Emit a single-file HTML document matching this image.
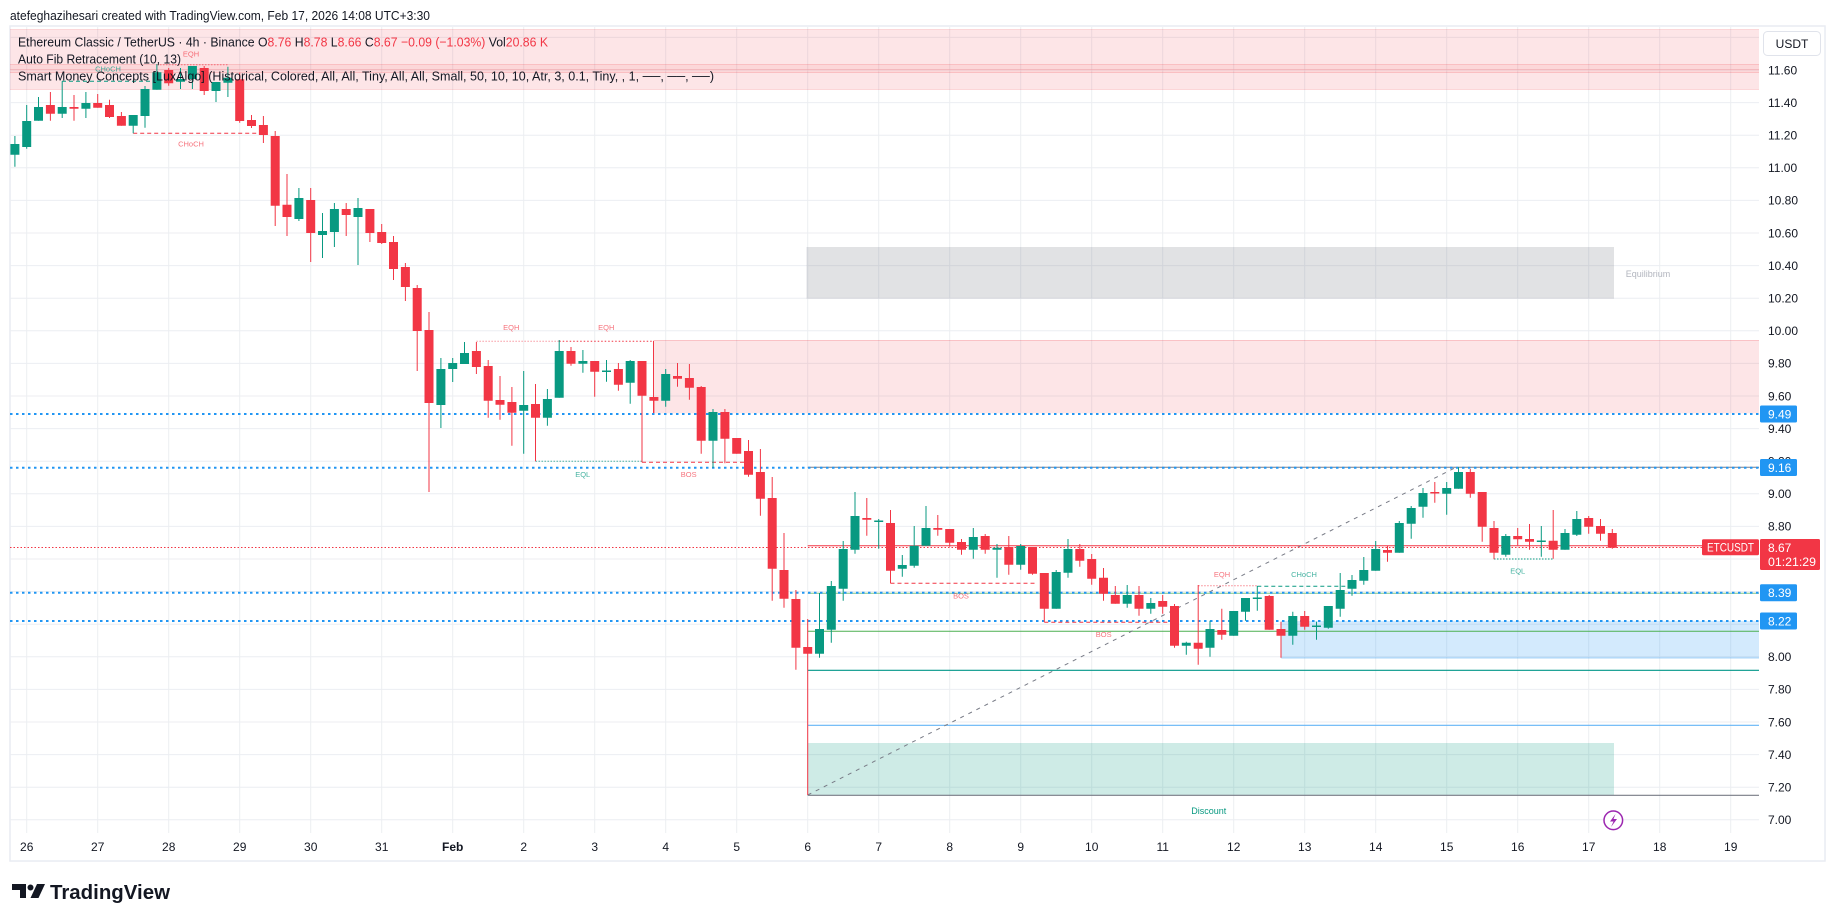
<!DOCTYPE html>
<html><head><meta charset="utf-8"><style>
html,body{margin:0;padding:0;background:#fff;}
svg{display:block;font-family:"Liberation Sans",Arial,sans-serif;}
</style></head><body>
<svg width="1835" height="921" viewBox="0 0 1835 921" xmlns="http://www.w3.org/2000/svg">
<rect x="0" y="0" width="1835" height="921" fill="#fff"/>
<text x="10" y="20" font-size="13" fill="#131722" textLength="420" lengthAdjust="spacingAndGlyphs">atefeghazihesari created with TradingView.com, Feb 17, 2026 14:08 UTC+3:30</text>
<rect x="10" y="26" width="1815" height="835" fill="#fff" stroke="#e9ecf2" stroke-width="1.5"/>
<defs><clipPath id="pc"><rect x="10" y="27" width="1749" height="806"/></clipPath></defs>
<g clip-path="url(#pc)">
<g stroke="#eceef2" stroke-width="1">
<path d="M26.7 27V833M97.7 27V833M168.7 27V833M239.7 27V833M310.7 27V833M381.7 27V833M452.7 27V833M523.7 27V833M594.7 27V833M665.7 27V833M736.7 27V833M807.7 27V833M878.7 27V833M949.7 27V833M1020.7 27V833M1091.7 27V833M1162.7 27V833M1233.7 27V833M1304.7 27V833M1375.7 27V833M1446.7 27V833M1517.7 27V833M1588.7 27V833M1659.7 27V833M1730.7 27V833"/>
<path d="M10 37.4H1759M10 70H1759M10 102.6H1759M10 135.2H1759M10 167.8H1759M10 200.4H1759M10 233H1759M10 265.6H1759M10 298.2H1759M10 330.8H1759M10 363.4H1759M10 396H1759M10 428.6H1759M10 461.2H1759M10 493.8H1759M10 526.4H1759M10 559H1759M10 591.6H1759M10 624.2H1759M10 656.8H1759M10 689.4H1759M10 722H1759M10 754.6H1759M10 787.2H1759M10 819.8H1759"/>
</g>
<!-- zones -->
<rect x="10" y="29.5" width="1749" height="60" fill="#f23645" fill-opacity="0.13"/>
<rect x="10" y="64" width="1749" height="9" fill="#f23645" fill-opacity="0.08"/>
<path d="M10 64.5H1759M10 69.5H1759M10 72.5H1759M10 29.5H1759M10 89.5H1759" stroke="#f23645" stroke-opacity="0.15" stroke-width="1"/>
<rect x="653.5" y="340" width="1106" height="73.3" fill="#f23645" fill-opacity="0.13"/>
<path d="M653.5 340.5H1759" stroke="#f23645" stroke-opacity="0.2"/>
<path d="M653.5 341V413" stroke="#f23645" stroke-width="1"/>
<rect x="806.5" y="247" width="807.5" height="51.7" fill="#787b86" fill-opacity="0.22"/>
<rect x="1281.3" y="621" width="478" height="37.3" fill="#2196f3" fill-opacity="0.2"/>
<path d="M1281.3 658H1759" stroke="#2196f3" stroke-opacity="0.3"/>
<rect x="807.5" y="743" width="806.5" height="52.3" fill="#089981" fill-opacity="0.2"/>
<!-- fib lines -->
<path d="M807.7 467.3H1759" stroke="#787b86" stroke-width="1"/>
<path d="M807.7 545.7H1759" stroke="#f23645" stroke-width="1"/>
<path d="M807.7 593.3H1759" stroke="#81c784" stroke-width="1"/>
<path d="M807.7 631.3H1759" stroke="#4caf50" stroke-width="1"/>
<path d="M807.7 670.3H1759" stroke="#009688" stroke-width="1.2"/>
<path d="M807.7 725.3H1759" stroke="#64b5f6" stroke-width="1.2"/>
<path d="M807.7 795.3H1759" stroke="#787b86" stroke-width="1.2"/>
<path d="M807.7 795L1454.7 468" stroke="#787b86" stroke-width="1" stroke-dasharray="4 5"/>
<!-- blue dotted -->
<path d="M10 414H1759M10 467.7H1759M10 592.7H1759M10 621H1759" stroke="#2196f3" stroke-width="2" stroke-dasharray="2.5 3.5"/>
<!-- current price -->
<path d="M10 547.5H1702" stroke="#f23645" stroke-width="1" stroke-dasharray="1.5 2"/>
<!-- SMC structures -->
<g fill="none" stroke-width="1">
<path d="M62 81.3H157" stroke="#089981" stroke-dasharray="4 3"/>
<path d="M157 64.7H228" stroke="#f23645" stroke-opacity="0.6" stroke-dasharray="1.5 1.5"/>
<path d="M133.2 133.3H263.4" stroke="#f23645" stroke-dasharray="4 3"/>
<path d="M476.4 341.3H559.2" stroke="#f23645" stroke-opacity="0.5" stroke-dasharray="1.5 1.5"/>
<path d="M559.2 341.3H653.9" stroke="#f23645" stroke-dasharray="1.5 2"/>
<path d="M535.5 461.3H642" stroke="#089981" stroke-opacity="0.7" stroke-dasharray="1.5 1.5"/>
<path d="M642 462.3H748.5" stroke="#f23645" stroke-dasharray="4 3"/>
<path d="M890.5 583.3H1036.7" stroke="#f23645" stroke-dasharray="4 3"/>
<path d="M1044.3 622.3H1170" stroke="#f23645" stroke-dasharray="4 3"/>
<path d="M1198.2 585.7H1257.3" stroke="#f23645" stroke-opacity="0.6" stroke-dasharray="1.5 1.5"/>
<path d="M1257.3 586.3H1352" stroke="#089981" stroke-dasharray="4 3"/>
<path d="M1494 559H1553.2" stroke="#089981" stroke-dasharray="1.5 1.5"/>
</g>
<g font-size="7.5" text-anchor="middle">
<text x="108" y="71.3" fill="#089981" fill-opacity="0.75">CHoCH</text>
<text x="191" y="56.3" fill="#f23645" fill-opacity="0.7">EQH</text>
<text x="191" y="146.6" fill="#f23645" fill-opacity="0.7">CHoCH</text>
<text x="511.3" y="329.9" fill="#f23645" fill-opacity="0.7">EQH</text>
<text x="606.3" y="329.9" fill="#f23645" fill-opacity="0.7">EQH</text>
<text x="582.7" y="476.9" fill="#089981" fill-opacity="0.75">EQL</text>
<text x="688.7" y="476.9" fill="#f23645" fill-opacity="0.7">BOS</text>
<text x="961" y="598.3" fill="#f23645" fill-opacity="0.7">BOS</text>
<text x="1103.7" y="636.9" fill="#f23645" fill-opacity="0.7">BOS</text>
<text x="1222" y="576.9" fill="#f23645" fill-opacity="0.7">EQH</text>
<text x="1304" y="576.9" fill="#089981" fill-opacity="0.75">CHoCH</text>
<text x="1517.7" y="573.3" fill="#089981" fill-opacity="0.75">EQL</text>
</g>
<text x="1625.7" y="277" font-size="9" fill="#b2b5be">Equilibrium</text>
<text x="1191.3" y="814" font-size="9" fill="#089981">Discount</text>
<!-- candles -->
<path stroke="#089981" stroke-width="1" fill="none" d="M14.9 136V166.7M26.7 105V148.7M38.5 97V120.7M62.2 81.3V118M85.9 92V118M133.2 115V133.3M145 86V127.7M156.9 64V89.7M180.5 68V89M192.4 66V89M216 82V102M227.9 66.7V97M298.9 188V221M322.5 213V258M334.4 203V247M358 198V265M440.9 358V428M452.7 358V382M464.5 342V364M523.7 371V453.7M547.4 389V425.7M559.2 340V397.7M582.9 350V372.7M606.5 360V381.7M630.2 360V403.7M665.7 369V406.7M713 409V467.7M819.5 593V657.7M831.3 581V642.7M843.2 541V600.7M855 492V553.7M878.7 519V548.7M902.3 555V576.7M914.2 526V567.7M926 506V545.7M973.3 528V558.7M997 544V577.7M1020.7 544V569.7M1056.2 570V608.7M1068 539V577.7M1127.2 585V607.7M1150.8 598V613.7M1186.3 641.7V654.7M1210 620.7V656.7M1233.7 611V635.7M1245.5 598V620.7M1257.3 586V610.7M1292.8 611.7V644.7M1316.5 621.7V639.7M1328.3 606V628.7M1340.2 573V616.7M1352 575V595.7M1363.8 557V584.7M1375.7 541V570.7M1399.3 521V552.7M1411.2 506V538.7M1423 488V517.7M1446.7 482V514.7M1458.5 467.3V488.7M1505.8 534V556.7M1541.3 526V556.7M1565 529V549.7M1576.8 511V536"/>
<path fill="#089981" d="M10.4 144h9V154.7h-9zM22.2 121h9V147h-9zM34 107h9V120.7h-9zM57.7 107h9V113.7h-9zM81.4 103h9V108.7h-9zM128.7 115h9V125.7h-9zM140.5 89h9V116h-9zM152.4 72.3h9V89.7h-9zM176 79h9V81.7h-9zM187.9 66h9V79h-9zM211.5 82h9V91h-9zM223.4 77.7h9V82.7h-9zM294.4 198h9V219h-9zM318 231h9V235h-9zM329.9 209h9V232h-9zM353.5 208h9V217h-9zM436.4 369h9V405h-9zM448.2 363h9V369h-9zM460 353h9V364h-9zM519.2 405h9V410.7h-9zM542.9 399h9V417.7h-9zM554.7 351h9V397.7h-9zM578.4 361h9V363.7h-9zM602 370.5h9V372h-9zM625.7 361h9V382.7h-9zM661.2 374h9V400.7h-9zM708.5 412h9V440.7h-9zM815 629h9V653.7h-9zM826.8 586h9V629.7h-9zM838.7 549h9V588.7h-9zM850.5 516h9V549.7h-9zM874.2 520.5h9V522h-9zM897.8 565h9V568.7h-9zM909.7 545.7h9V565.7h-9zM921.5 528h9V545.7h-9zM968.8 537h9V549.7h-9zM992.5 547.7h9V549.7h-9zM1016.2 546h9V564.7h-9zM1051.7 572h9V608.7h-9zM1063.5 549h9V572.7h-9zM1122.7 595h9V603.7h-9zM1146.3 603h9V608.7h-9zM1181.8 642.7h9V645.7h-9zM1205.5 629h9V647.7h-9zM1229.2 611h9V635.7h-9zM1241 598h9V611.7h-9zM1252.8 597.5h9V599h-9zM1288.3 616h9V635.7h-9zM1312 625.5h9V627h-9zM1323.8 606h9V627.7h-9zM1335.7 590h9V608.7h-9zM1347.5 580h9V588.7h-9zM1359.3 570h9V580.7h-9zM1371.2 549h9V570.7h-9zM1394.8 523h9V552.7h-9zM1406.7 508h9V523.7h-9zM1418.5 493h9V506.7h-9zM1442.2 488h9V493.7h-9zM1454 472h9V488.7h-9zM1501.3 536h9V554.7h-9zM1536.8 540.5h9V542h-9zM1560.5 533h9V549.7h-9zM1572.3 519h9V534.7h-9z"/>
<path stroke="#f23645" stroke-width="1" fill="none" d="M50.4 92V120.7M74 95V120.7M97.7 94V107.7M109.5 99.7V118M121.4 112V125.7M168.7 68V85.7M204.2 66V95M239.7 72.7V122.7M251.5 115V128M263.4 116V143M275.2 131V226M287 174V236M310.7 188V262M346.2 203V236M369.9 209V242M381.7 224V244M393.5 236V280M405.4 263V301M417.2 285V371M429 312V492M476.4 342V374M488.2 360V417.7M500 376V419.7M511.9 387V445.7M535.5 384V461.3M571 347V365.7M594.7 361V396.7M618.4 363V390.7M642 361V462.3M653.9 397V413M677.5 363V386.7M689.4 364V399.7M701.2 386V453.7M724.9 409V463.3M736.7 438V453.7M748.5 440V476.7M760.4 449V515.7M772.2 477V600.7M784 533V607.7M795.9 590V669.7M807.7 619V795M866.8 498V535.7M890.5 510V583.3M937.8 515V535.7M949.7 529V546.7M961.5 539V554.7M985.2 534V553.7M1008.8 536V574.7M1032.5 547V574.7M1044.3 573V622M1079.8 544V566.7M1091.7 554V584.7M1103.5 568V600.7M1115.3 586V603.7M1139 586V615.7M1162.7 595V613.7M1174.5 604V647.7M1198.2 585V664.7M1221.8 608.7V639.7M1269.2 595V629.7M1281 621.7V657.7M1304.7 611V629.7M1387.5 546V561.7M1434.8 482V502.7M1470.3 469V497.7M1482.2 492V541.7M1494 521V559.3M1517.7 528V545.3M1529.5 524V549.7M1553.2 510V558.7M1588.7 516V533.7M1600.5 519V540.7M1612.3 529V548.7"/>
<path fill="#f23645" d="M45.9 105h9V113.7h-9zM69.5 107h9V108.7h-9zM93.2 103h9V107.7h-9zM105 105h9V117h-9zM116.9 116h9V125.7h-9zM164.2 70h9V83.3h-9zM199.7 68h9V91h-9zM235.2 79.3h9V121h-9zM247 120h9V126h-9zM258.9 125h9V135h-9zM270.7 136h9V205.7h-9zM282.5 204.7h9V217h-9zM306.2 200h9V233h-9zM341.7 209h9V215h-9zM365.4 209h9V233h-9zM377.2 232h9V243h-9zM389 242h9V269h-9zM400.9 267h9V287h-9zM412.7 288h9V331h-9zM424.5 330h9V403h-9zM471.9 351h9V367h-9zM483.7 366h9V400.7h-9zM495.5 400h9V404.7h-9zM507.4 402h9V412.7h-9zM531 404h9V417.7h-9zM566.5 351h9V363.7h-9zM590.2 361h9V371.7h-9zM613.9 369h9V384.7h-9zM637.5 361h9V395.7h-9zM649.4 397h9V400.7h-9zM673 376h9V378.7h-9zM684.9 378h9V387.7h-9zM696.7 387h9V440.7h-9zM720.4 412h9V438.7h-9zM732.2 438h9V453.7h-9zM744 451h9V474.7h-9zM755.9 472h9V498.7h-9zM767.7 498h9V568.7h-9zM779.5 570h9V598.7h-9zM791.4 599h9V647.7h-9zM803.2 647h9V653.7h-9zM862.3 518h9V519.7h-9zM886 523h9V570.7h-9zM933.3 528h9V529.7h-9zM945.2 529h9V542.7h-9zM957 542h9V549.7h-9zM980.7 536h9V549.7h-9zM1004.3 547h9V564.7h-9zM1028 547h9V573.7h-9zM1039.8 573h9V608.7h-9zM1075.3 549h9V560.7h-9zM1087.2 559h9V578.7h-9zM1099 577.7h9V593.7h-9zM1110.8 595h9V603.7h-9zM1134.5 595h9V608.7h-9zM1158.2 601h9V606.7h-9zM1170 606h9V645.7h-9zM1193.7 642.7h9V648.7h-9zM1217.3 630h9V634.7h-9zM1264.7 596h9V629.7h-9zM1276.5 629h9V635.7h-9zM1300.2 616h9V626.7h-9zM1383 550h9V552.7h-9zM1430.3 492h9V493.5h-9zM1465.8 472h9V493.7h-9zM1477.7 492h9V526.7h-9zM1489.5 528h9V552.7h-9zM1513.2 536h9V539.3h-9zM1525 539h9V541.7h-9zM1548.7 540.7h9V549.7h-9zM1584.2 518h9V526.7h-9zM1596 526h9V533.7h-9zM1607.8 533h9V547.7h-9z"/>
<!-- lightning icon -->
<circle cx="1613.3" cy="820.3" r="9.3" fill="#fff" stroke="#9c27b0" stroke-width="1.5"/>
<path d="M1615.5 814L1610 821.5H1613.5L1611 827L1617 819H1613.5Z" fill="#9c27b0"/>
</g>
<!-- legend -->
<text x="18" y="46.5" font-size="13" fill="#131722" textLength="530" lengthAdjust="spacingAndGlyphs">Ethereum Classic / TetherUS · 4h · Binance  O<tspan fill="#f23645">8.76</tspan>  H<tspan fill="#f23645">8.78</tspan>  L<tspan fill="#f23645">8.66</tspan>  C<tspan fill="#f23645">8.67</tspan>  <tspan fill="#f23645">−0.09 (−1.03%)</tspan>  Vol<tspan fill="#f23645">20.86 K</tspan></text>
<text x="18" y="63.5" font-size="13" fill="#131722" textLength="163" lengthAdjust="spacingAndGlyphs">Auto Fib Retracement (10, 13)</text>
<text x="18" y="80.5" font-size="13" fill="#131722" textLength="696" lengthAdjust="spacingAndGlyphs">Smart Money Concepts [LuxAlgo] (Historical, Colored, All, All, Tiny, All, All, Small, 50, 10, 10, Atr, 3, 0.1, Tiny, , 1, ──, ──, ──)</text>
<!-- price axis -->
<rect x="1763.5" y="31.5" width="57" height="24" rx="4" fill="#fff" stroke="#e0e3eb"/>
<text x="1792" y="48" font-size="12" fill="#131722" text-anchor="middle">USDT</text>
<g font-size="12" fill="#131722">
<text x="1768" y="74.3">11.60</text><text x="1768" y="106.9">11.40</text><text x="1768" y="139.5">11.20</text><text x="1768" y="172.1">11.00</text><text x="1768" y="204.7">10.80</text><text x="1768" y="237.3">10.60</text><text x="1768" y="269.9">10.40</text><text x="1768" y="302.5">10.20</text><text x="1768" y="335.1">10.00</text><text x="1768" y="367.7">9.80</text><text x="1768" y="400.3">9.60</text><text x="1768" y="432.9">9.40</text><text x="1768" y="465.5">9.20</text><text x="1768" y="498.1">9.00</text><text x="1768" y="530.7">8.80</text><text x="1768" y="563.3">8.60</text><text x="1768" y="595.9">8.40</text><text x="1768" y="628.5">8.20</text><text x="1768" y="661.1">8.00</text><text x="1768" y="693.7">7.80</text><text x="1768" y="726.3">7.60</text><text x="1768" y="758.9">7.40</text><text x="1768" y="791.5">7.20</text><text x="1768" y="824.1">7.00</text>
</g>
<g font-size="12" fill="#fff">
<rect x="1760" y="405.5" width="37" height="17" rx="1.5" fill="#2196f3"/><text x="1768" y="418.3">9.49</text>
<rect x="1760" y="459" width="37" height="17" rx="1.5" fill="#2196f3"/><text x="1768" y="471.8">9.16</text>
<rect x="1760" y="584.2" width="37" height="17" rx="1.5" fill="#2196f3"/><text x="1768" y="597">8.39</text>
<rect x="1760" y="612.5" width="37" height="17" rx="1.5" fill="#2196f3"/><text x="1768" y="625.3">8.22</text>
<rect x="1760" y="539" width="60" height="31" rx="1.5" fill="#f23645"/><text x="1768" y="552">8.67</text><text x="1768" y="566" textLength="48" lengthAdjust="spacingAndGlyphs">01:21:29</text>
<rect x="1702" y="539.3" width="57" height="16" rx="1.5" fill="#f23645"/><text x="1730.5" y="551.5" text-anchor="middle" textLength="47" lengthAdjust="spacingAndGlyphs">ETCUSDT</text>
</g>
<!-- time axis -->
<g font-size="12" fill="#131722" text-anchor="middle">
<text x="26.7" y="851">26</text><text x="97.7" y="851">27</text><text x="168.7" y="851">28</text><text x="239.7" y="851">29</text><text x="310.7" y="851">30</text><text x="381.7" y="851">31</text><text x="452.7" y="851" font-weight="bold">Feb</text><text x="523.7" y="851">2</text><text x="594.7" y="851">3</text><text x="665.7" y="851">4</text><text x="736.7" y="851">5</text><text x="807.7" y="851">6</text><text x="878.7" y="851">7</text><text x="949.7" y="851">8</text><text x="1020.7" y="851">9</text><text x="1091.7" y="851">10</text><text x="1162.7" y="851">11</text><text x="1233.7" y="851">12</text><text x="1304.7" y="851">13</text><text x="1375.7" y="851">14</text><text x="1446.7" y="851">15</text><text x="1517.7" y="851">16</text><text x="1588.7" y="851">17</text><text x="1659.7" y="851">18</text><text x="1730.7" y="851">19</text>
</g>
<!-- logo -->
<g fill="#131722">
<path d="M12 884h14v14h-6v-8h-8z"/>
<circle cx="30.5" cy="887.5" r="3"/>
<path d="M37 884h8l-6.5 14h-8z"/>
<text x="50" y="899" font-size="20" font-weight="bold" textLength="120" lengthAdjust="spacingAndGlyphs">TradingView</text>
</g>
</svg>
</body></html>
